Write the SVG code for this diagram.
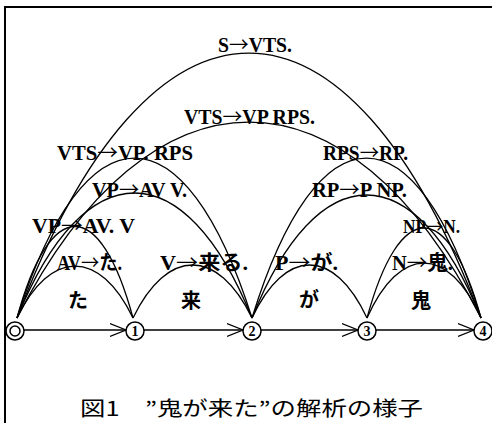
<svg xmlns="http://www.w3.org/2000/svg" width="492" height="423" viewBox="0 0 492 423">
<defs>
<style>
.arc{fill:none;stroke:#000;stroke-width:1.3}
.h{fill:none;stroke:#000;stroke-width:1.4}
.lbl{font-family:"Liberation Serif","Noto Sans CJK JP",serif;font-size:20px;font-weight:bold;fill:#000}
.ar{font-family:"Noto Sans CJK JP",sans-serif;font-weight:normal}
.ch{font-family:"Noto Sans CJK JP",sans-serif;font-size:20px;font-weight:bold;fill:#000;text-anchor:middle}
.num{font-family:"Liberation Serif",serif;font-size:14px;font-weight:bold;fill:#000;text-anchor:middle}
.nd{fill:#fff;stroke:#000;stroke-width:1.5}
.title{font-family:"Noto Sans CJK JP",sans-serif;font-size:20px;fill:#000}
</style>
<marker id="ah" markerWidth="18" markerHeight="16" refX="16" refY="8" orient="auto" markerUnits="userSpaceOnUse">
<path d="M0,1.5 L16,8 L0,14.5" fill="none" stroke="#000" stroke-width="1.3"/>
</marker>
</defs>
<rect width="492" height="423" fill="#fff"/>
<path d="M4,7 H492 M5,7 V423" fill="none" stroke="#000" stroke-width="2"/>
<g id="connectors">
<path class="arc" d="M17,318 C50.3,248.7 99.7,248.7 133,318"/>
<path class="arc" d="M17,318 C50,196 100,196 133,318"/>
<path class="arc" d="M133,318 C167.2,247.3 217.8,247.3 252,318"/>
<path class="arc" d="M252,318 C285,247.3 334,247.3 367,318"/>
<path class="arc" d="M367,318 C399.7,244.7 448.3,244.7 481,318"/>
<path class="arc" d="M367,318 C399.7,198 448.3,198 481,318"/>
<path class="arc" d="M17,318 C84.4,151.3 184.6,151.3 252,318"/>
<path class="arc" d="M17,318 C84.4,104.7 184.6,104.7 252,318"/>
<path class="arc" d="M252,318 C317.7,154 415.3,154 481,318"/>
<path class="arc" d="M252,318 C317.7,104.7 415.3,104.7 481,318"/>
<path class="arc" d="M17,318 C150.2,56.7 347.8,56.7 481,318"/>
<path class="arc" d="M17,318 C150.2,-35.3 347.8,-35.3 481,318"/>
<path class="h" d="M24,330 H126" marker-end="url(#ah)"/>
<path class="h" d="M144,330 H243" marker-end="url(#ah)"/>
<path class="h" d="M261,330 H358" marker-end="url(#ah)"/>
<path class="h" d="M376,330 H474" marker-end="url(#ah)"/>
</g>
<g id="labels">
<text class="lbl" x="218" y="52" textLength="74" lengthAdjust="spacingAndGlyphs">S<tspan class="ar">→</tspan>VTS.</text>
<text class="lbl" x="184" y="124" textLength="131" lengthAdjust="spacingAndGlyphs">VTS<tspan class="ar">→</tspan>VP RPS.</text>
<text class="lbl" x="57" y="160" textLength="136" lengthAdjust="spacingAndGlyphs">VTS<tspan class="ar">→</tspan>VP. RPS</text>
<text class="lbl" x="323" y="160" textLength="85" lengthAdjust="spacingAndGlyphs">RPS<tspan class="ar">→</tspan>RP.</text>
<text class="lbl" x="92" y="197" textLength="95" lengthAdjust="spacingAndGlyphs">VP<tspan class="ar">→</tspan>AV V.</text>
<text class="lbl" x="312" y="197" textLength="95" lengthAdjust="spacingAndGlyphs">RP<tspan class="ar">→</tspan>P NP.</text>
<text class="lbl" x="32" y="233" textLength="103" lengthAdjust="spacingAndGlyphs">VP<tspan class="ar">→</tspan>AV. V</text>
<text class="lbl" x="403" y="233" textLength="57" lengthAdjust="spacingAndGlyphs" style="font-size:18px">NP<tspan class="ar">→</tspan>N.</text>
<text class="lbl" x="57" y="270" textLength="65" lengthAdjust="spacingAndGlyphs">AV<tspan class="ar">→</tspan>た.</text>
<text class="lbl" x="160" y="270" textLength="88" lengthAdjust="spacingAndGlyphs">V<tspan class="ar">→</tspan>来る.</text>
<text class="lbl" x="275" y="270" textLength="63" lengthAdjust="spacingAndGlyphs">P<tspan class="ar">→</tspan>が.</text>
<text class="lbl" x="392" y="270" textLength="61" lengthAdjust="spacingAndGlyphs">N<tspan class="ar">→</tspan>鬼.</text>
</g>
<g id="words">
<text class="ch" x="78" y="308">た</text>
<text class="ch" x="191" y="308">来</text>
<text class="ch" x="309" y="307">が</text>
<text class="ch" x="421" y="308">鬼</text>
</g>
<g id="node0"><circle class="nd" cx="15" cy="331" r="9"/><circle class="nd" cx="15" cy="331" r="5"/></g>
<g id="node1"><circle class="nd" cx="135" cy="331" r="9"/><text class="num" x="135" y="336">1</text></g>
<g id="node2"><circle class="nd" cx="252" cy="331" r="9"/><text class="num" x="252" y="336">2</text></g>
<g id="node3"><circle class="nd" cx="367" cy="331" r="9"/><text class="num" x="367" y="336">3</text></g>
<g id="node4"><circle class="nd" cx="483" cy="331" r="9"/><text class="num" x="483" y="336">4</text></g>
<text class="title" x="80" y="416" textLength="343" lengthAdjust="spacingAndGlyphs">図1　”鬼が来た”の解析の様子</text>
</svg>
